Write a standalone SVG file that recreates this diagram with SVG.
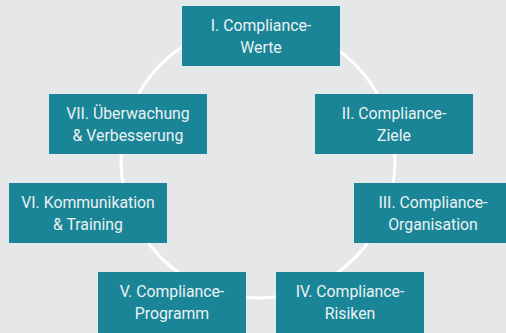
<svg xmlns="http://www.w3.org/2000/svg" width="506" height="333" viewBox="0 0 506 333">
  <style>
    .box { fill: #1a8596; }
    .lbl { font-family: Roboto, "Liberation Sans", Arial, sans-serif; font-size: 15.8px; fill: #eaf2f4; text-anchor: middle; }
    .ring { fill: none; stroke: #ffffff; stroke-width: 3; }
  </style>
  <rect x="0" y="0" width="506" height="333" fill="#e6e7e9"/>
  <g id="connectors">
    <circle class="ring" cx="258" cy="161" r="137"/>
  </g>
  <g id="n1">
    <rect class="box" x="182" y="6" width="158" height="60"/>
    <text class="lbl" x="261" y="31">I. Compliance-</text>
    <text class="lbl" x="261" y="53">Werte</text>
  </g>
  <g id="n2">
    <rect class="box" x="315" y="94" width="158" height="60"/>
    <text class="lbl" x="394" y="119">II. Compliance-</text>
    <text class="lbl" x="394" y="141">Ziele</text>
  </g>
  <g id="n3">
    <rect class="box" x="354" y="183" width="158" height="60"/>
    <text class="lbl" x="433" y="208">III. Compliance-</text>
    <text class="lbl" x="433" y="230">Organisation</text>
  </g>
  <g id="n4">
    <rect class="box" x="276" y="272" width="148" height="61"/>
    <text class="lbl" x="350" y="297">IV. Compliance-</text>
    <text class="lbl" x="350" y="319">Risiken</text>
  </g>
  <g id="n5">
    <rect class="box" x="98" y="272" width="148" height="61"/>
    <text class="lbl" x="172" y="297">V. Compliance-</text>
    <text class="lbl" x="172" y="319">Programm</text>
  </g>
  <g id="n6">
    <rect class="box" x="9" y="183" width="158" height="60"/>
    <text class="lbl" x="88" y="208">VI. Kommunikation</text>
    <text class="lbl" x="88" y="230">&amp; Training</text>
  </g>
  <g id="n7">
    <rect class="box" x="49" y="94" width="158" height="60"/>
    <text class="lbl" x="128" y="119">VII. Überwachung</text>
    <text class="lbl" x="128" y="141">&amp; Verbesserung</text>
  </g>
</svg>
